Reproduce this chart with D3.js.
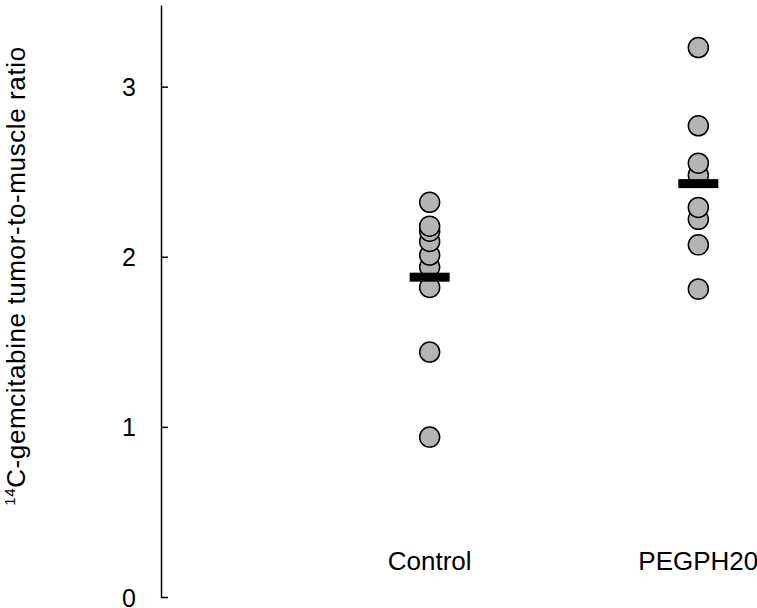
<!DOCTYPE html>
<html>
<head>
<meta charset="utf-8">
<script src="https://cdn.jsdelivr.net/npm/d3@7"></script>
<style>
  body { margin: 0; background: #fff; }
  svg { font-family: "Liberation Sans", Arial, sans-serif; }
</style>
</head>
<body>
<script>
const groups = ["Control", "PEGPH20"];
const controlValues = [2.32, 2.18, 2.15, 2.09, 2.01, 1.94, 1.82, 1.44, 0.94];
const pegValues = [3.23, 2.77, 2.55, 2.48, 2.29, 2.22, 2.07, 1.81];
const means = [1.88, 2.43];
const yTicks = [0, 1, 2, 3];

const width = 757, height = 608;

const svg = d3.select("body").append("svg")
  .attr("width", width)
  .attr("height", height);

const x = d3.scalePoint()
  .domain(groups)
  .range([161, 967])
  .padding(1);

const y = d3.scaleLinear()
  .domain([0, 3.48])
  .range([597, 5]);

// y axis, ticks pointing inward
const yAxis = d3.axisRight(y)
  .tickValues(yTicks)
  .tickSize(7)
  .tickSizeOuter(0)
  .tickFormat(d3.format("d"));

const gy = svg.append("g")
  .attr("transform", "translate(161,0)")
  .call(yAxis);
gy.select(".domain").attr("stroke", "#000").attr("stroke-width", 1.5);
gy.selectAll(".tick line").attr("stroke", "#000").attr("stroke-width", 1.5);
gy.selectAll(".tick text")
  .attr("x", -32)
  .attr("dy", "0.36em")
  .attr("text-anchor", "middle")
  .attr("fill", "#000")
  .style("font-size", "25px");

// y label
const ylab = svg.append("text")
  .attr("transform", "translate(25,276) rotate(-90)")
  .attr("text-anchor", "middle")
  .style("font-size", "26px")
  .style("letter-spacing", "0.6px")
  .attr("fill", "#000");
ylab.append("tspan").attr("dy", -10).style("font-size", "15px").text("14");
ylab.append("tspan").attr("dy", 10).text("C-gemcitabine tumor-to-muscle ratio");

// category labels
svg.selectAll("text.cat")
  .data(groups)
  .enter()
  .append("text")
  .attr("class", "cat")
  .attr("x", d => x(d))
  .attr("y", 570)
  .attr("text-anchor", "middle")
  .style("font-size", "26px")
  .attr("fill", "#000")
  .text(d => d);

const points = [];
controlValues.forEach(v => points.push({ group: "Control", value: v }));
pegValues.forEach(v => points.push({ group: "PEGPH20", value: v }));

// draw from bottom up so upper points sit on top like the reference
svg.selectAll("circle")
  .data(points.slice().sort((a, b) => a.value - b.value))
  .enter()
  .append("circle")
  .attr("cx", d => x(d.group))
  .attr("cy", d => y(d.value))
  .attr("r", 10)
  .attr("fill", "#b4b4b4")
  .attr("stroke", "#000")
  .attr("stroke-width", 1.5);

// mean bars
svg.selectAll("rect.mean")
  .data(groups)
  .enter()
  .append("rect")
  .attr("class", "mean")
  .attr("x", d => x(d) - 20)
  .attr("y", (d, i) => y(means[i]) - 4.5)
  .attr("width", 40)
  .attr("height", 9)
  .attr("fill", "#000");
</script>
</body>
</html>
